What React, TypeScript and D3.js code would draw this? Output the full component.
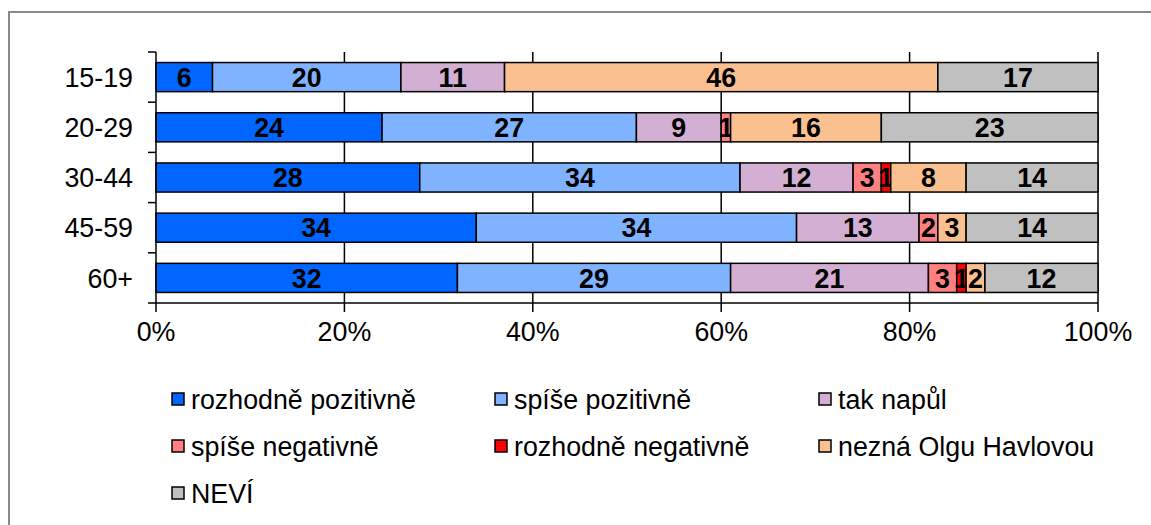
import * as d3 from "d3";
import { useEffect, useRef } from "react";

const categories = ["15-19", "20-29", "30-44", "45-59", "60+"];
const seriesNames = [
	"rozhodně pozitivně",
	"spíše pozitivně",
	"tak napůl",
	"spíše negativně",
	"rozhodně negativně",
	"nezná Olgu Havlovou",
	"NEVÍ",
];
const colors = ["#0066ff", "#80b3ff", "#d4afd4", "#ff8080", "#ff0000", "#fac090", "#c0c0c0"];
// values per series, one entry per age group
const rozhodnePozitivne = [6, 24, 28, 34, 32];
const spisePozitivne = [20, 27, 34, 34, 29];
const takNapul = [11, 9, 12, 13, 21];
const spiseNegativne = [0, 1, 3, 2, 3];
const rozhodneNegativne = [0, 0, 1, 0, 1];
const neznaOlgu = [46, 16, 8, 3, 2];
const nevi = [17, 23, 14, 14, 12];
const xTicks = [0, 20, 40, 60, 80, 100];

const seriesValues = [
	rozhodnePozitivne,
	spisePozitivne,
	takNapul,
	spiseNegativne,
	rozhodneNegativne,
	neznaOlgu,
	nevi,
];

function App() {
	const ref = useRef<SVGSVGElement>(null);

	useEffect(() => {
		const svg = d3.select(ref.current);
		svg.selectAll("*").remove();
		const font = "Liberation Sans, Arial, sans-serif";
		const fs = 26.8;

		svg.append("rect")
			.attr("x", 9)
			.attr("y", 12)
			.attr("width", 1160)
			.attr("height", 540)
			.attr("fill", "white")
			.attr("stroke", "#888")
			.attr("stroke-width", 2);

		const left = 156;
		const right = 1098;
		const top = 52;
		const bottom = 303;

		const x = d3.scaleLinear().domain([0, 100]).range([left, right]);
		const y = d3.scaleBand().domain(categories).range([top, bottom]).paddingInner(0.42).paddingOuter(0.21);

		const table = categories.map((c, i) => {
			const row: any = { cat: c };
			seriesNames.forEach((s, j) => (row[s] = seriesValues[j][i]));
			return row;
		});
		const stacked = d3.stack().keys(seriesNames)(table);

		// gridlines
		svg.append("g")
			.selectAll("line")
			.data(xTicks.slice(1))
			.enter()
			.append("line")
			.attr("x1", (d) => x(d))
			.attr("x2", (d) => x(d))
			.attr("y1", top)
			.attr("y2", bottom)
			.attr("stroke", "black")
			.attr("stroke-width", 1.5);

		stacked.forEach((layer, j) => {
			const g = svg.append("g");
			layer.forEach((seg, i) => {
				const w = x(seg[1]) - x(seg[0]);
				if (w <= 0) return;
				const yy = y(categories[i])!;
				g.append("rect")
					.attr("x", x(seg[0]))
					.attr("y", yy)
					.attr("width", w)
					.attr("height", y.bandwidth())
					.attr("fill", colors[j])
					.attr("stroke", "black")
					.attr("stroke-width", 1.5);
				g.append("text")
					.attr("x", (x(seg[0]) + x(seg[1])) / 2)
					.attr("y", yy + y.bandwidth() / 2)
					.attr("dy", "0.36em")
					.attr("text-anchor", "middle")
					.attr("font-family", font)
					.attr("font-weight", "bold")
					.attr("font-size", fs)
					.text(seg[1] - seg[0]);
			});
		});

		// y axis
		const yAxis = svg.append("g");
		yAxis.append("line")
			.attr("x1", left)
			.attr("x2", left)
			.attr("y1", top)
			.attr("y2", bottom)
			.attr("stroke", "black")
			.attr("stroke-width", 1.5);
		const step = (bottom - top) / categories.length;
		d3.range(categories.length + 1).forEach((i) => {
			yAxis.append("line")
				.attr("x1", left - 8)
				.attr("x2", left)
				.attr("y1", top + i * step)
				.attr("y2", top + i * step)
				.attr("stroke", "black")
				.attr("stroke-width", 1.5);
		});
		categories.forEach((c) => {
			yAxis.append("text")
				.attr("x", 133)
				.attr("y", y(c)! + y.bandwidth() / 2)
				.attr("dy", "0.36em")
				.attr("text-anchor", "end")
				.attr("font-family", font)
				.attr("font-size", fs)
				.text(c);
		});

		// x axis
		const xAxis = svg.append("g");
		xAxis.append("line")
			.attr("x1", left)
			.attr("x2", right)
			.attr("y1", bottom)
			.attr("y2", bottom)
			.attr("stroke", "black")
			.attr("stroke-width", 1.5);
		xTicks.forEach((t) => {
			xAxis.append("line")
				.attr("x1", x(t))
				.attr("x2", x(t))
				.attr("y1", bottom)
				.attr("y2", bottom + 9)
				.attr("stroke", "black")
				.attr("stroke-width", 1.5);
			xAxis.append("text")
				.attr("x", x(t))
				.attr("y", 331)
				.attr("dy", "0.36em")
				.attr("text-anchor", "middle")
				.attr("font-family", font)
				.attr("font-size", fs)
				.text(t + "%");
		});

		// legend
		const colX = [172, 495, 819];
		const rowY = [399, 446, 493];
		seriesNames.forEach((s, j) => {
			const cx = colX[j % 3];
			const cy = rowY[Math.floor(j / 3)];
			svg.append("rect")
				.attr("x", cx)
				.attr("y", cy - 6)
				.attr("width", 12)
				.attr("height", 12)
				.attr("fill", colors[j])
				.attr("stroke", "black")
				.attr("stroke-width", 1.5);
			svg.append("text")
				.attr("x", cx + 19)
				.attr("y", cy)
				.attr("dy", "0.36em")
				.attr("font-family", font)
				.attr("font-size", fs)
				.text(s);
		});
	}, []);

	return <svg ref={ref} width={1151} height={525} style={{ position: "absolute", left: 0, top: 0 }}></svg>;
}

export default App;
